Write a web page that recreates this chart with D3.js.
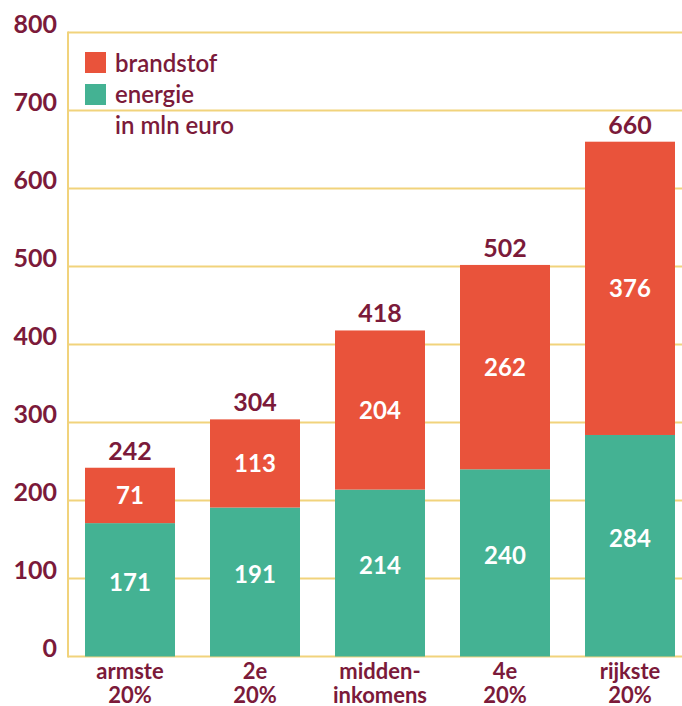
<!DOCTYPE html>
<html>
<head>
<meta charset="utf-8">
<script src="https://cdn.jsdelivr.net/npm/d3@7"></script>
<style>
  body { margin: 0; background: #fff; }
  svg text { font-family: Lato, "Open Sans", sans-serif; }
</style>
</head>
<body>
<div id="chart"></div>
<script>
// data
const categories = [["armste", "20%"], ["2e", "20%"], ["midden-", "inkomens"], ["4e", "20%"], ["rijkste", "20%"]];
const energie = [171, 191, 214, 240, 284];
const brandstof = [71, 113, 204, 262, 376];
const totals = [242, 304, 418, 502, 660];
const yTicks = [0, 100, 200, 300, 400, 500, 600, 700, 800];
const legendItems = [["brandstof", "#e9533b"], ["energie", "#44b293"]];

const W = 682, H = 706;
const maroon = "#7b1a3a", gridCol = "#f1d37c";

const svg = d3.select("#chart").append("svg")
    .attr("width", W)
    .attr("height", H);

const x = d3.scaleBand()
    .domain(d3.range(categories.length))
    .range([67.5, 692.5])
    .paddingInner(0.28)
    .paddingOuter(0.14);

const y = d3.scaleLinear()
    .domain([0, 800])
    .range([656.5, 32.5]);

// grid lines
svg.append("g")
    .selectAll("line")
    .data(yTicks)
    .join("line")
    .attr("x1", 68).attr("x2", W)
    .attr("y1", d => y(d)).attr("y2", d => y(d))
    .attr("stroke", gridCol)
    .attr("stroke-width", 2);

svg.append("line")
    .attr("x1", 68).attr("x2", 68)
    .attr("y1", y(800) - 1).attr("y2", y(0) + 1)
    .attr("stroke", gridCol)
    .attr("stroke-width", 2);

// y tick labels
svg.append("g")
    .selectAll("text")
    .data(yTicks)
    .join("text")
    .attr("x", 57)
    .attr("y", d => y(d))
    .attr("text-anchor", "end")
    .attr("font-size", 25)
    .attr("font-weight", 700)
    .attr("fill", maroon)
    .text(d => d);

// stacked bars
const bars = svg.append("g");
bars.selectAll(".energie")
    .data(energie)
    .join("rect")
    .attr("class", "energie")
    .attr("x", (d, i) => x(i))
    .attr("width", x.bandwidth())
    .attr("y", d => y(d))
    .attr("height", d => y(0) - y(d))
    .attr("fill", legendItems[1][1]);

bars.selectAll(".brandstof")
    .data(brandstof)
    .join("rect")
    .attr("class", "brandstof")
    .attr("x", (d, i) => x(i))
    .attr("width", x.bandwidth())
    .attr("y", (d, i) => y(energie[i] + d))
    .attr("height", (d, i) => y(energie[i]) - y(energie[i] + d))
    .attr("fill", legendItems[0][1]);

// values inside segments
const inner = svg.append("g")
    .attr("font-size", 24)
    .attr("font-weight", 700)
    .attr("fill", "#fff")
    .attr("text-anchor", "middle");

inner.selectAll(".lab-e")
    .data(energie)
    .join("text")
    .attr("class", "lab-e")
    .attr("x", (d, i) => x(i) + x.bandwidth() / 2)
    .attr("y", d => y(d / 2) + 1)
    .text(d => d);

inner.selectAll(".lab-b")
    .data(brandstof)
    .join("text")
    .attr("class", "lab-b")
    .attr("x", (d, i) => x(i) + x.bandwidth() / 2)
    .attr("y", (d, i) => y(energie[i] + d / 2) + 9)
    .text(d => d);

// totals
svg.append("g")
    .selectAll("text")
    .data(totals)
    .join("text")
    .attr("x", (d, i) => x(i) + x.bandwidth() / 2)
    .attr("y", d => y(d) - 8)
    .attr("text-anchor", "middle")
    .attr("font-size", 25)
    .attr("font-weight", 700)
    .attr("fill", maroon)
    .text(d => d);

// category labels
const cats = svg.append("g")
    .selectAll("text")
    .data(categories)
    .join("text")
    .attr("x", (d, i) => x(i) + x.bandwidth() / 2)
    .attr("y", 679)
    .attr("text-anchor", "middle")
    .attr("font-size", 22)
    .attr("font-weight", 700)
    .attr("fill", maroon);
cats.selectAll("tspan")
    .data(d => d)
    .join("tspan")
    .attr("x", function () { return d3.select(this.parentNode).attr("x"); })
    .attr("dy", (d, i) => i === 0 ? 0 : 24)
    .text(d => d);

// legend
const legend = svg.append("g");
legend.selectAll("rect")
    .data(legendItems)
    .join("rect")
    .attr("x", 85)
    .attr("y", (d, i) => 52 + i * 32)
    .attr("width", 21)
    .attr("height", 21)
    .attr("fill", d => d[1]);
legend.selectAll("text")
    .data(legendItems.map(d => d[0]).concat(["in mln euro"]))
    .join("text")
    .attr("x", 115)
    .attr("y", (d, i) => 72 + i * 31)
    .attr("font-size", 24)
    .attr("font-weight", 600)
    .attr("fill", maroon)
    .text(d => d);
</script>
</body>
</html>
